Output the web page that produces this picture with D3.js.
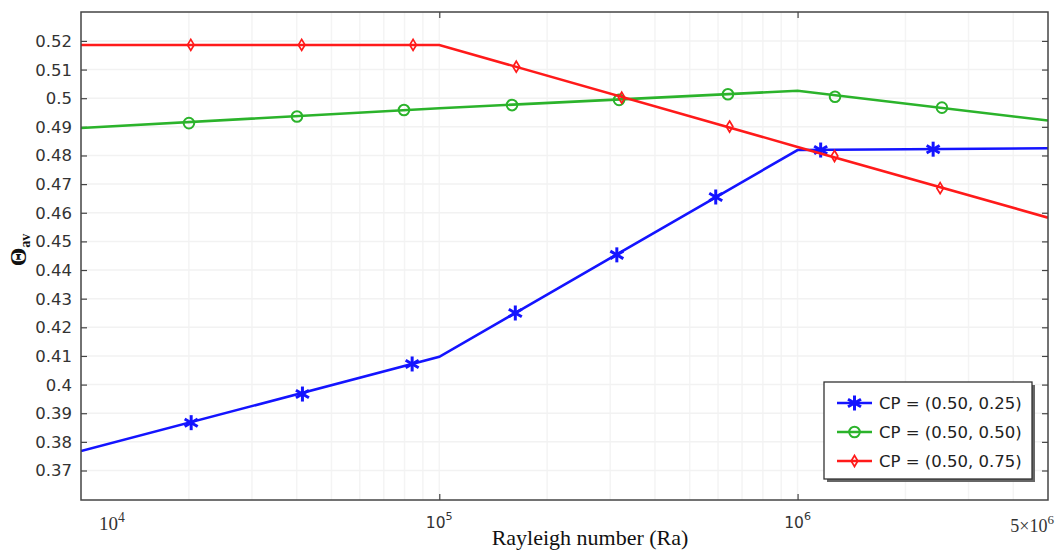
<!DOCTYPE html>
<html>
<head>
<meta charset="utf-8">
<script src="https://cdn.jsdelivr.net/npm/d3@7"></script>
<style>
  html, body { margin: 0; padding: 0; background: #fff; }
  svg { display: block; }
</style>
</head>
<body>
<svg id="chart" width="1057" height="551"></svg>
<script>
// ---------- data ----------
const raLine = [1e4, 1e5, 1e6, 5e6];
const thetaBlue  = [0.3768, 0.4097, 0.4819, 0.4825];
const thetaGreen = [0.4896, 0.4965, 0.5026, 0.4922];
const thetaRed   = [0.5186, 0.5186, 0.4830, 0.4583];

const blueMarkRa   = [20300, 41500, 84000, 163000, 313000, 591000, 1160000, 2390000];
const blueMarkVal  = [0.3867, 0.3967, 0.4072, 0.4250, 0.4453, 0.4655, 0.4819, 0.4822];
const greenMarkRa  = [20010, 40070, 79700, 159600, 317500, 639300, 1272000, 2529000];
const greenMarkVal = [0.4913, 0.4936, 0.4959, 0.4976, 0.4994, 0.5014, 0.5005, 0.4967];
const redMarkRa    = [20250, 41300, 84500, 164000, 323000, 646000, 1268000, 2500000];
const redMarkVal   = [0.5186, 0.5186, 0.5186, 0.5110, 0.5002, 0.4901, 0.4798, 0.4686];

const yTicks = [0.37, 0.38, 0.39, 0.40, 0.41, 0.42, 0.43, 0.44, 0.45, 0.46, 0.47, 0.48, 0.49, 0.50, 0.51, 0.52];
const yTickLabels = ["0.37","0.38","0.39","0.4","0.41","0.42","0.43","0.44","0.45","0.46","0.47","0.48","0.49","0.5","0.51","0.52"];
const xTicks = [1e5, 1e6];
const seriesNames = ["CP = (0.50, 0.25)", "CP = (0.50, 0.50)", "CP = (0.50, 0.75)"];

// ---------- layout ----------
const L = 81, R = 1048, T = 12, B = 500;
const svg = d3.select("#chart");
const x = d3.scaleLog().domain([1e4, 5e6]).range([L, R]);
const y = d3.scaleLinear().domain([0.3597, 0.5301]).range([B, T]);

const colBlue = "#1414ff", colGreen = "#2bb32b", colRed = "#ff1a1a";

// faint grid
const minor = [];
for (let e = 4; e <= 6; e++) for (let m = 1; m <= 9; m++) {
  const v = m * Math.pow(10, e);
  if (v > 1e4 && v < 5e6) minor.push(v);
}
svg.append("g").selectAll("line").data(minor).join("line")
  .attr("x1", d => x(d)).attr("x2", d => x(d)).attr("y1", T).attr("y2", B)
  .attr("stroke", "#f4f4f4").attr("stroke-width", 1.5);
svg.append("g").selectAll("line").data(yTicks).join("line")
  .attr("x1", L).attr("x2", R).attr("y1", d => y(d)).attr("y2", d => y(d))
  .attr("stroke", "#f2f2f2").attr("stroke-width", 1.5);

// axes (inward ticks)
const axL = d3.axisRight(y).tickValues(yTicks).tickSize(6).tickFormat("");
const axR = d3.axisLeft(y).tickValues(yTicks).tickSize(6).tickFormat("");
const axB = d3.axisTop(x).tickValues(xTicks).tickSize(6).tickFormat("");
const axT = d3.axisBottom(x).tickValues(xTicks).tickSize(6).tickFormat("");
function styleAx(g) {
  g.select(".domain").remove();
  g.selectAll("line").attr("stroke", "#444").attr("stroke-width", 1.2);
}
svg.append("g").attr("transform", `translate(${L},0)`).call(axL).call(styleAx);
svg.append("g").attr("transform", `translate(${R},0)`).call(axR).call(styleAx);
svg.append("g").attr("transform", `translate(0,${B})`).call(axB).call(styleAx);
svg.append("g").attr("transform", `translate(0,${T})`).call(axT).call(styleAx);

// y tick labels
svg.append("g").selectAll("text").data(yTicks).join("text")
  .attr("x", 72).attr("y", d => y(d)).attr("dy", "0.36em")
  .attr("text-anchor", "end")
  .attr("font-family", "DejaVu Sans, sans-serif").attr("font-size", 16.5)
  .attr("fill", "#333")
  .text((d, i) => yTickLabels[i]);

// x tick labels
function powLabel(px, py, base, exp, anchor, family, size) {
  const t = svg.append("text").attr("x", px).attr("y", py)
    .attr("text-anchor", anchor).attr("font-family", family)
    .attr("font-size", size).attr("fill", "#333");
  t.append("tspan").text(base);
  t.append("tspan").attr("dy", -8).attr("font-size", size * 0.72).text(exp);
}
powLabel(99, 530, "10", "4", "start", "Liberation Serif, serif", 19);
powLabel(x(1e5), 528, "10", "5", "middle", "DejaVu Sans, sans-serif", 15.5);
powLabel(x(1e6), 528, "10", "6", "middle", "DejaVu Sans, sans-serif", 15.5);
powLabel(1054, 532, "5×10", "6", "end", "Liberation Serif, serif", 18);

// axis titles
svg.append("text").attr("x", 590).attr("y", 545).attr("text-anchor", "middle")
  .attr("font-family", "Liberation Serif, serif").attr("font-size", 22)
  .attr("fill", "#111").text("Rayleigh number (Ra)");
const yl = svg.append("text").attr("transform", "translate(26,250) rotate(-90)")
  .attr("text-anchor", "middle").attr("font-family", "Liberation Serif, serif")
  .attr("font-weight", "bold").attr("fill", "#111");
yl.append("tspan").attr("font-size", 24).text("Θ");
yl.append("tspan").attr("font-size", 14).attr("dy", 4).text("av");

// lines
const line = d3.line().x(d => x(d[0])).y(d => y(d[1]));
const series = [
  { vals: thetaBlue, mRa: blueMarkRa, mVal: blueMarkVal, col: colBlue, type: "star" },
  { vals: thetaGreen, mRa: greenMarkRa, mVal: greenMarkVal, col: colGreen, type: "circle" },
  { vals: thetaRed, mRa: redMarkRa, mVal: redMarkVal, col: colRed, type: "diamond" }
];
svg.append("clipPath").attr("id", "pc").append("rect")
  .attr("x", L).attr("y", T).attr("width", R - L).attr("height", B - T);

function drawMarker(g, type, col) {
  if (type === "star") {
    const a = 7.5;
    [90, 30, 150].forEach(deg => {
      const r = deg * Math.PI / 180;
      g.append("line").attr("x1", -a * Math.cos(r)).attr("y1", -a * Math.sin(r))
        .attr("x2", a * Math.cos(r)).attr("y2", a * Math.sin(r))
        .attr("stroke", col).attr("stroke-width", 3);
    });
  } else if (type === "circle") {
    g.append("circle").attr("r", 5.3).attr("fill", "none")
      .attr("stroke", col).attr("stroke-width", 2);
  } else {
    g.append("path").attr("d", "M0,-5.5L3.3,0L0,5.5L-3.3,0Z").attr("fill", "none")
      .attr("stroke", col).attr("stroke-width", 1.7);
  }
}

series.forEach(s => {
  const pts = raLine.map((r, i) => [r, s.vals[i]]);
  svg.append("path").attr("d", line(pts)).attr("fill", "none")
    .attr("stroke", s.col).attr("stroke-width", 2.6)
    .attr("clip-path", "url(#pc)");
  s.mRa.forEach((r, i) => {
    const g = svg.append("g").attr("transform", `translate(${x(r)},${y(s.mVal[i])})`);
    drawMarker(g, s.type, s.col);
  });
});

// frame
svg.append("rect").attr("x", L).attr("y", T).attr("width", R - L).attr("height", B - T)
  .attr("fill", "none").attr("stroke", "#444").attr("stroke-width", 1.5);

// legend
const lx = 824, ly = 382, lw = 208, lh = 97;
svg.append("rect").attr("x", lx + 3).attr("y", ly + 3).attr("width", lw).attr("height", lh)
  .attr("fill", "#666");
svg.append("rect").attr("x", lx).attr("y", ly).attr("width", lw).attr("height", lh)
  .attr("fill", "#fff").attr("stroke", "#333").attr("stroke-width", 1.3);
const rowY = [403, 432, 461];
series.forEach((s, i) => {
  svg.append("line").attr("x1", 837).attr("x2", 872).attr("y1", rowY[i]).attr("y2", rowY[i])
    .attr("stroke", s.col).attr("stroke-width", 2.4);
  const g = svg.append("g").attr("transform", `translate(854.5,${rowY[i]})`);
  drawMarker(g, s.type, s.col);
  svg.append("text").attr("x", 879).attr("y", rowY[i]).attr("dy", "0.36em")
    .attr("font-family", "DejaVu Sans, sans-serif").attr("font-size", 16.5)
    .attr("fill", "#222").text(seriesNames[i]);
});
</script>
</body>
</html>
